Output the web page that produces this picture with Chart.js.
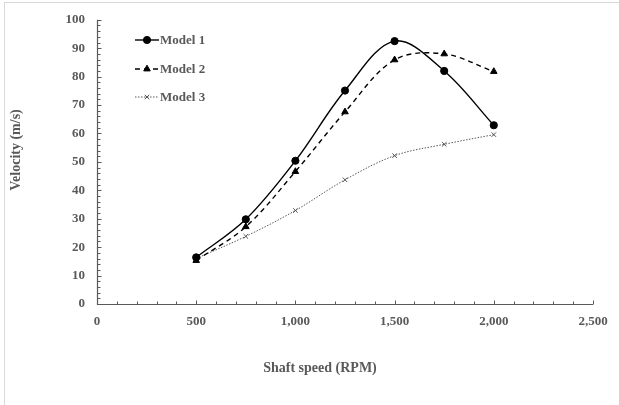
<!DOCTYPE html>
<html><head><meta charset="utf-8">
<script src="https://cdn.jsdelivr.net/npm/chart.js@4/dist/chart.umd.min.js"></script>
<style>html,body{margin:0;padding:0;background:#fff;}#wrap{width:619px;height:405px;position:relative;}</style>
</head><body><div id="wrap"><canvas id="c" width="619" height="405"></canvas></div>
<script>
const speeds = [500, 750, 1000, 1250, 1500, 1750, 2000];
const model1 = [16.4, 29.8, 50.4, 75.1, 92.5, 82.0, 62.9];
const model2 = [15.3, 27.2, 46.6, 67.6, 85.9, 88.0, 81.8];
const model3 = [16.0, 23.8, 32.9, 43.7, 52.2, 56.2, 59.6];
const seriesNames = ['Model 1', 'Model 2', 'Model 3'];
const xTickLabels = ['0', '500', '1,000', '1,500', '2,000', '2,500'];
const yTickLabels = ['0','10','20','30','40','50','60','70','80','90','100'];
const xTitle = 'Shaft speed (RPM)';
const yTitle = 'Velocity (m/s)';

const TXT = '#595959';
const FONT = 'Liberation Serif';
const toPts = (ys) => speeds.map((x, i) => ({x: x, y: ys[i]}));

const styles = [
  {color:'#000', width:1.4, dash:[], point:'circle', r:3.6},
  {color:'#000', width:1.4, dash:[5,4], point:'triangle', r:3.8},
  {color:'#555', width:1, dash:[1.5,1.5], point:'crossRot', r:3.2}
];
const series = [model1, model2, model3];

const datasets = series.map((s, i) => ({
  label: seriesNames[i],
  data: toPts(s),
  borderColor: styles[i].color,
  backgroundColor: styles[i].color,
  borderWidth: styles[i].width,
  borderDash: styles[i].dash,
  pointStyle: styles[i].point,
  pointRadius: styles[i].r,
  pointBorderWidth: 1,
  pointBorderColor: styles[i].color,
  pointBackgroundColor: styles[i].color,
  tension: 0.35,
  fill: false
}));

const deco = {
  id: 'deco',
  afterDraw(chart) {
    const ctx = chart.ctx;
    const xs = chart.scales.x, ys = chart.scales.y;
    ctx.save();
    // border
    ctx.strokeStyle = '#d9d9d9'; ctx.lineWidth = 1;
    ctx.strokeRect(4.5, 2.5, 640, 440);
    // axes
    ctx.strokeStyle = '#595959'; ctx.lineWidth = 1.2;
    const x0 = Math.round(xs.getPixelForValue(0)) + 0.5;
    const y0 = Math.round(ys.getPixelForValue(0)) + 0.5;
    ctx.beginPath();
    ctx.moveTo(x0, ys.getPixelForValue(100)); ctx.lineTo(x0, y0);
    ctx.lineTo(xs.getPixelForValue(2500), y0);
    ctx.stroke();
    ctx.lineWidth = 1;
    ctx.beginPath();
    for (let v = 100; v <= 2500; v += 100) {
      const px = Math.round(xs.getPixelForValue(v)) + 0.5;
      const len = v % 500 === 0 ? 4 : 3;
      ctx.moveTo(px, y0); ctx.lineTo(px, y0 - len);
    }
    for (let v = 2; v <= 100; v += 2) {
      const py = Math.round(ys.getPixelForValue(v)) + 0.5;
      const len = v % 10 === 0 ? 4 : 3;
      ctx.moveTo(x0, py); ctx.lineTo(x0 + len, py);
    }
    ctx.stroke();
    // titles
    ctx.fillStyle = TXT;
    ctx.font = 'bold 14px "' + FONT + '"';
    ctx.textAlign = 'center'; ctx.textBaseline = 'middle';
    ctx.fillText(xTitle, 320, 368);
    ctx.save();
    ctx.translate(16, 150); ctx.rotate(-Math.PI/2);
    ctx.fillText(yTitle, 0, 0);
    ctx.restore();
    // legend
    const ly = [40, 69, 97];
    ctx.font = 'bold 13px "' + FONT + '"';
    ctx.textAlign = 'left';
    chart.data.datasets.forEach((d, i) => {
      const st = styles[i];
      ctx.strokeStyle = st.color; ctx.lineWidth = st.width;
      ctx.setLineDash(st.dash);
      ctx.beginPath(); ctx.moveTo(135, ly[i]); ctx.lineTo(159, ly[i]); ctx.stroke();
      ctx.setLineDash([]);
      ctx.fillStyle = st.color; ctx.strokeStyle = st.color; ctx.lineWidth = 1;
      Chart.helpers.drawPoint(ctx, {pointStyle: st.point, radius: st.r, borderWidth: 1}, 147, ly[i]);
      ctx.fillStyle = TXT;
      ctx.fillText(d.label, 160, ly[i] + 1);
    });
    ctx.restore();
  }
};

new Chart(document.getElementById('c'), {
  type: 'line',
  data: { datasets },
  options: {
    responsive: false,
    animation: false,
    layout: { padding: { top: 11, right: 26, left: 0, bottom: 0 } },
    plugins: { legend: { display: false }, tooltip: { enabled: false } },
    scales: {
      x: {
        type: 'linear', min: 0, max: 2500,
        grid: { display: false, drawTicks: false },
        border: { display: false },
        ticks: {
          stepSize: 500, padding: 10, color: TXT,
          font: { family: FONT, size: 13, weight: 'bold' },
          maxRotation: 0,
          callback: (v) => xTickLabels[Math.round(v / 500)]
        },
        afterFit(s) { s.height = 101; }
      },
      y: {
        type: 'linear', min: 0, max: 100,
        grid: { display: false, drawTicks: false },
        border: { display: false },
        ticks: {
          stepSize: 10, padding: 12, color: TXT,
          font: { family: FONT, size: 13, weight: 'bold' },
          callback: (v) => yTickLabels[Math.round(v / 10)]
        },
        afterFit(s) { s.width = 97; }
      }
    }
  },
  plugins: [deco]
});
</script></body></html>
